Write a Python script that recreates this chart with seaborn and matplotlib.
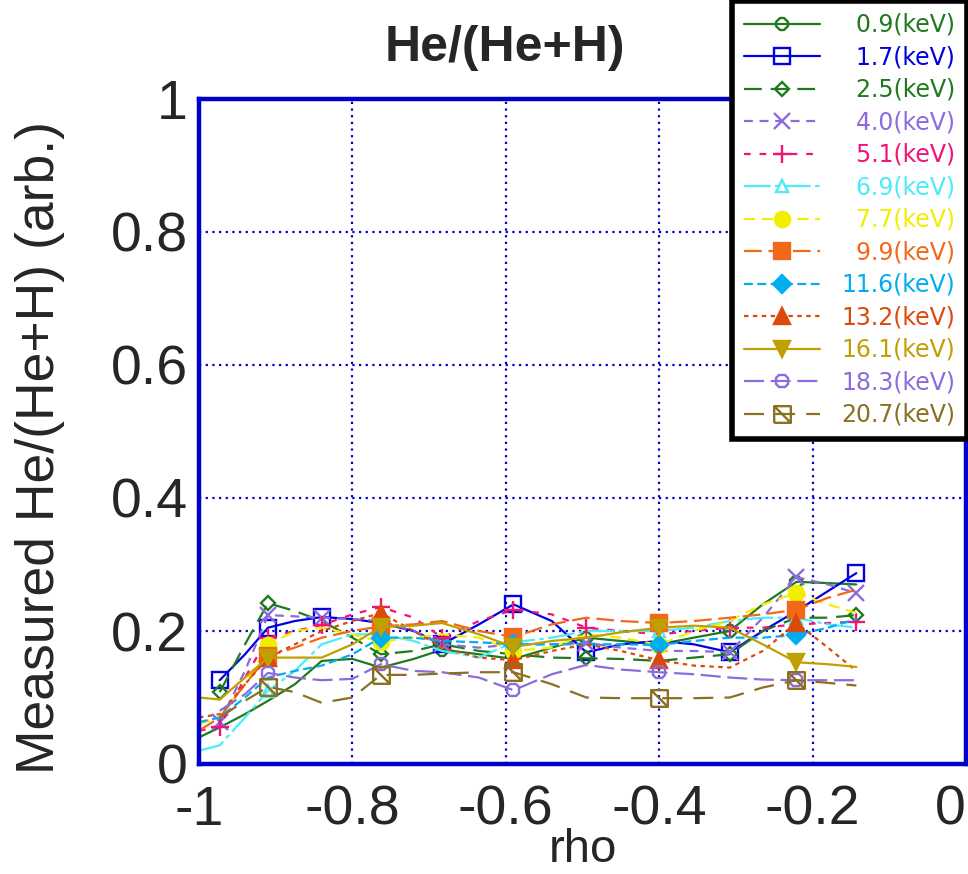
import numpy as np
import pandas as pd
import matplotlib
matplotlib.use("Agg")
import matplotlib.pyplot as plt
from matplotlib.path import Path
import seaborn as sns

# ---------------- data ----------------
rho = [-1.0, -0.973, -0.94, -0.91, -0.875, -0.84, -0.80, -0.763, -0.72, -0.683, -0.635,
       -0.59, -0.54, -0.495, -0.45, -0.40, -0.355, -0.308, -0.265, -0.221, -0.18, -0.143]
nan = np.nan

energies = ["0.9", "1.7", "2.5", "4.0", "5.1", "6.9", "7.7", "9.9", "11.6", "13.2", "16.1", "18.3", "20.7"]

v_0_9 = [0.04, 0.055, 0.075, 0.095, 0.12, 0.155, 0.158, 0.145, 0.158, 0.172, 0.165,
         0.158, 0.175, 0.19, 0.185, 0.18, 0.19, 0.20, 0.24, 0.274, 0.272, 0.27]
v_1_7 = [nan, 0.126, 0.165, 0.205, 0.215, 0.221, 0.218, 0.212, 0.20, 0.18, 0.21,
         0.24, 0.215, 0.168, 0.18, 0.185, 0.18, 0.168, 0.20, 0.23, 0.26, 0.287]
v_2_5 = [nan, 0.108, 0.18, 0.242, 0.23, 0.215, 0.19, 0.165, 0.17, 0.18, 0.17,
         0.165, 0.16, 0.159, 0.158, 0.155, 0.16, 0.165, 0.20, 0.22, 0.22, 0.224]
v_4_0 = [nan, 0.063, 0.14, 0.224, 0.222, 0.22, 0.218, 0.215, 0.20, 0.18, 0.175,
         0.18, 0.18, 0.182, 0.175, 0.17, 0.17, 0.168, 0.22, 0.281, 0.27, 0.257]
v_5_1 = [0.05, 0.056, 0.13, 0.19, 0.20, 0.209, 0.225, 0.236, 0.22, 0.19, 0.215,
         0.232, 0.225, 0.205, 0.20, 0.195, 0.20, 0.205, 0.205, 0.21, 0.212, 0.214]
v_6_9 = [0.02, 0.028, 0.07, 0.11, 0.14, 0.18, 0.195, 0.195, 0.185, 0.17, 0.16,
         0.183, 0.19, 0.20, 0.20, 0.20, 0.205, 0.215, 0.22, 0.22, 0.21, 0.205]
v_7_7 = [0.06, 0.07, 0.12, 0.179, 0.20, 0.205, 0.195, 0.184, 0.19, 0.195, 0.19,
         0.17, 0.175, 0.195, 0.19, 0.179, 0.20, 0.215, 0.24, 0.257, 0.24, 0.227]
v_9_9 = [0.05, 0.07, 0.12, 0.162, 0.175, 0.19, 0.20, 0.207, 0.21, 0.215, 0.20,
         0.191, 0.21, 0.22, 0.215, 0.212, 0.215, 0.22, 0.225, 0.232, 0.25, 0.262]
v_11_6 = [0.063, 0.07, 0.10, 0.13, 0.14, 0.148, 0.165, 0.19, 0.19, 0.185, 0.183,
          0.18, 0.18, 0.18, 0.18, 0.179, 0.185, 0.19, 0.19, 0.194, 0.205, 0.218]
v_13_2 = [0.07, 0.075, 0.12, 0.16, 0.18, 0.20, 0.215, 0.227, 0.20, 0.175, 0.16,
          0.156, 0.17, 0.18, 0.17, 0.156, 0.148, 0.145, 0.17, 0.212, 0.175, 0.14]
v_16_1 = [0.10, 0.097, 0.13, 0.16, 0.16, 0.16, 0.18, 0.206, 0.208, 0.212, 0.195,
          0.176, 0.185, 0.19, 0.198, 0.205, 0.208, 0.205, 0.18, 0.153, 0.15, 0.146]
v_18_3 = [nan, 0.08, 0.105, 0.137, 0.13, 0.126, 0.128, 0.15, 0.14, 0.138, 0.13,
          0.111, 0.135, 0.149, 0.142, 0.138, 0.135, 0.13, 0.127, 0.126, 0.126, 0.126]
v_20_7 = [nan, 0.07, 0.095, 0.116, 0.108, 0.092, 0.10, 0.134, 0.134, 0.136, 0.138,
          0.138, 0.12, 0.10, 0.099, 0.099, 0.099, 0.10, 0.115, 0.126, 0.122, 0.118]

values = [v_0_9, v_1_7, v_2_5, v_4_0, v_5_1, v_6_9, v_7_7, v_9_9, v_11_6, v_13_2, v_16_1, v_18_3, v_20_7]

marker_idx = [
    [9, 13, 17, 19],
    [1, 3, 5, 9, 11, 13, 17, 21],
    [1, 3, 7, 9, 13, 17, 21],
    [1, 3, 5, 9, 13, 17, 19, 21],
    [1, 3, 5, 7, 9, 11, 13, 17, 21],
    [3, 7, 11, 15, 19],
    [3, 7, 11, 15, 19],
    [3, 7, 11, 15, 19],
    [7, 11, 15, 19],
    [3, 7, 11, 15, 19],
    [3, 7, 11, 15, 19],
    [3, 7, 11, 15, 19],
    [3, 7, 11, 15, 19],
]

# ---------------- styles ----------------
colors = ["#1f7a1f", "#0000e0", "#1f7a1f", "#8e6ae0", "#f0147a", "#4debfa", "#f2ee00",
          "#f06818", "#00aeef", "#dc4a0a", "#c0a000", "#8c6cdc", "#8a7020"]

box_diag = Path([(-1, -1), (1, -1), (1, 1), (-1, 1), (-1, -1), (-1, 1), (1, -1)],
                [Path.MOVETO, Path.LINETO, Path.LINETO, Path.LINETO, Path.LINETO,
                 Path.MOVETO, Path.LINETO])

markers = ["8", "s", "D", "x", "+", "^", "o", "s", "D", "^", "v", "8", box_diag]
filled = [False, False, False, True, True, False, True, True, True, True, True, False, False]
msizes = [9, 11, 7, 11, 13, 9, 11, 12, 9, 11, 11, 10, 12]
linestyles = ["-", "-", (0, (8, 4)), (0, (4, 3)), (0, (3, 4)), (0, (12, 2, 2, 2)),
              (0, (5, 3)), (0, (8, 3)), (0, (4, 2)), (0, (2, 2)), "-", (0, (9, 3)), (0, (9, 5))]

sns.set_theme(style="white")
plt.rcParams["font.family"] = ["Liberation Sans", "DejaVu Sans"]

fig = plt.figure(figsize=(9.68, 8.74), dpi=100)
ax = fig.add_axes([199 / 968, 1 - 764 / 874, 767 / 968, 665 / 874])

for i, e in enumerate(energies):
    arr = np.array(values[i], dtype=float)
    ok = ~np.isnan(arr)
    pos = np.cumsum(ok) - 1
    me = [int(pos[k]) for k in marker_idx[i] if ok[k]]
    df = pd.DataFrame({"rho": np.array(rho)[ok], "val": arr[ok]})
    sns.lineplot(data=df, x="rho", y="val", ax=ax, color=colors[i], linestyle=linestyles[i],
                 linewidth=1.6, marker=markers[i], markersize=msizes[i], markevery=me,
                 markerfacecolor=colors[i] if filled[i] else "none",
                 markeredgecolor=colors[i], markeredgewidth=1.7,
                 sort=False, errorbar=None, label=e)

ax.set_xlim(-1, 0)
ax.set_ylim(0, 1)
ax.set_xticks([-1, -0.8, -0.6, -0.4, -0.2, 0])
ax.set_xticklabels(["-1", "-0.8", "-0.6", "-0.4", "-0.2", "0"])
ax.set_yticks([0, 0.2, 0.4, 0.6, 0.8, 1])
ax.set_yticklabels(["0", "0.2", "0.4", "0.6", "0.8", "1"])
ax.tick_params(axis="both", length=0, labelsize=40)
ax.tick_params(axis="y", pad=8)
ax.tick_params(axis="x", pad=15)
ax.get_xticklabels()[-1].set_horizontalalignment("right")
ax.set_xlabel("")
ax.set_ylabel("")
ax.grid(True, color="#0000cc", linestyle=(0, (1, 2)), linewidth=1.6)
for s in ax.spines.values():
    s.set_color("#0000cc")
    s.set_linewidth(3.2)
    s.set_visible(True)

fig.text(505 / 968, 1 - 48 / 874, "He/(He+H)", fontsize=36, fontweight="bold",
         ha="center", va="center")
fig.text(583 / 968, 1 - 862 / 874, "rho", fontsize=34, ha="center", va="baseline")
fig.text(40 / 968, 1 - 447 / 874, "Measured He/(He+H) (arb.)", fontsize=38.5,
         rotation=90, ha="center", va="center")

h, l = ax.get_legend_handles_labels()
labels = [("\u2007" if len(e) == 3 else "") + e + "(keV)" for e in energies]
leg = ax.legend(h, labels, loc="upper right", bbox_to_anchor=(967 / 968, 1 - 1 / 874),
                bbox_transform=fig.transFigure, borderaxespad=0, frameon=True,
                fancybox=False, framealpha=1, edgecolor="black",
                prop={"family": "DejaVu Sans", "size": 17}, handlelength=3.2,
                handletextpad=0.9, labelspacing=0.36, borderpad=0.5, numpoints=1)
leg.get_frame().set_linewidth(4)
for t, c in zip(leg.get_texts(), colors):
    t.set_color(c)

fig.savefig("out.png", dpi=100)
